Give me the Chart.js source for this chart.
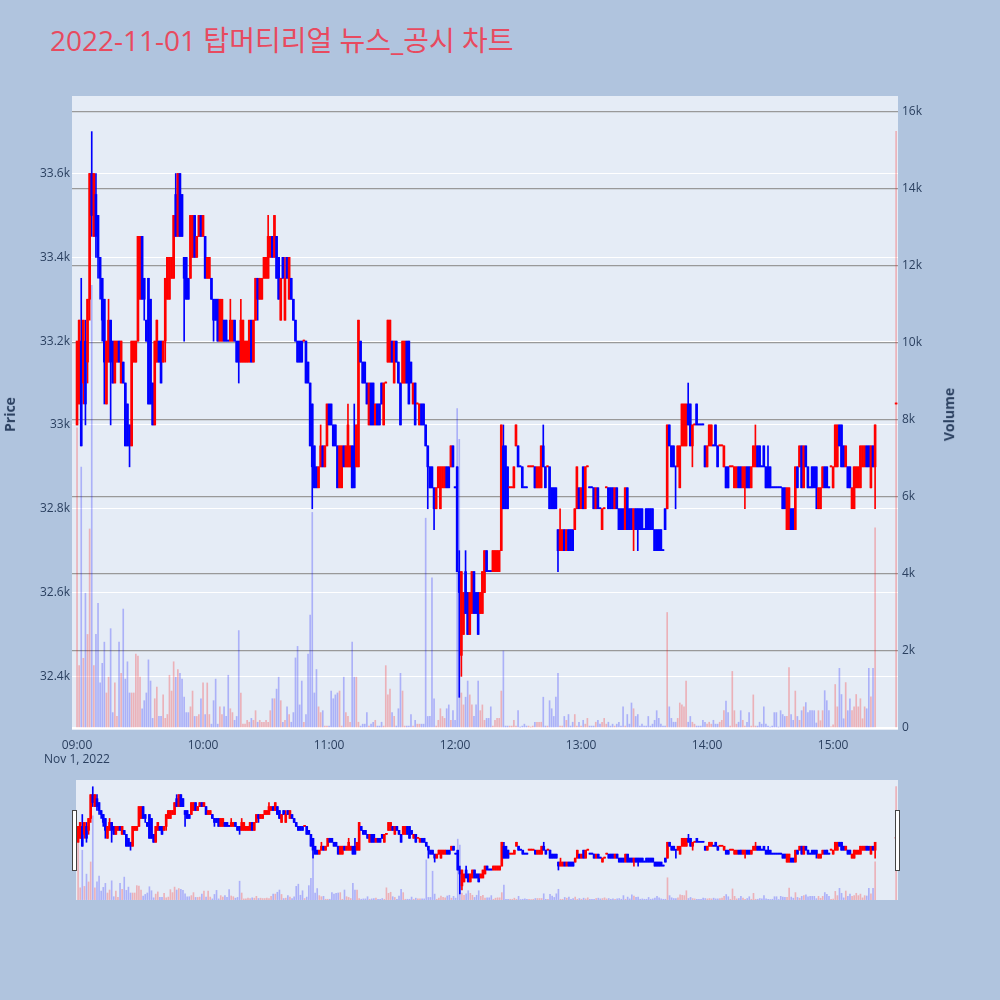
<!DOCTYPE html>
<html>
<head>
<meta charset="utf-8">
<script src="https://cdn.jsdelivr.net/npm/chart.js@4.4.0/dist/chart.umd.min.js"></script>
<style>
  body { margin: 0; width: 1000px; height: 1000px; background: #b0c4de; position: relative; overflow: hidden;
         font-family: "Open Sans", "Noto Sans CJK KR", sans-serif; }
  #title { position: absolute; left: 50px; top: 19px; font-size: 28px; color: #e84a5f; white-space: nowrap; }
  #main { position: absolute; left: 0; top: 0; }
  #slider { position: absolute; left: 76px; top: 780px; background: #e5ecf6; }
  .axtitle { position: absolute; font-size: 14px; font-weight: bold; color: #2a3f5f; transform: rotate(-90deg); white-space: nowrap; }
  #date { position: absolute; left: 27px; top: 750px; width: 100px; text-align: center; font-size: 12px; color: #2a3f5f; }
  .handle { position: absolute; top: 810px; width: 3px; height: 59px; background: #fff; border: 1px solid #444; }
</style>
</head>
<body>
<div id="title">2022-11-01 탑머티리얼 뉴스_공시 차트</div>
<canvas id="main" width="1000" height="780"></canvas>
<canvas id="slider" width="822" height="120"></canvas>
<div class="axtitle" style="left:-8px;top:405px;">Price</div>
<div class="axtitle" style="left:922px;top:405px;">Volume</div>
<div id="date">Nov 1, 2022</div>
<div class="handle" style="left:72px;"></div>
<div class="handle" style="left:895px;"></div>
<script>
// 1분봉 (09:00 ~ 15:20) + 15:30 동시호가
const opens = [
  33000,33050,33200,33100,33200,33150,33300,33600,33450,33550,
  33500,33400,33350,33300,33050,33150,33250,33200,33100,33150,
  33200,33100,33150,33100,33050,33000,32950,33150,33150,33200,
  33300,33450,33350,33250,33350,33300,33100,33000,33150,33200,
  33200,33150,33200,33300,33300,33350,33350,33550,33450,33600,
  33550,33400,33400,33350,33350,33400,33500,33400,33450,33500,
  33450,33450,33350,33350,33350,33300,33300,33300,33200,33200,
  33250,33250,33200,33200,33200,33250,33200,33200,33150,33150,
  33150,33150,33150,33250,33150,33250,33350,33300,33300,33350,
  33350,33350,33400,33450,33400,33450,33400,33250,33400,33250,
  33400,33300,33350,33300,33250,33200,33200,33200,33200,33200,
  33150,33100,33050,32950,32900,32850,32900,32950,32900,32950,
  33050,33050,33000,33000,32950,32850,32850,32950,32900,32900,
  32900,32950,32950,32900,32900,33200,33150,33150,33100,33000,
  33100,33100,33000,33050,33050,33100,33000,33100,33150,33150,
  33200,33100,33200,33150,33100,33100,33100,33200,33200,33150,
  33050,33100,33050,33000,33050,33050,33000,32950,32900,32900,
  32850,32800,32850,32800,32850,32850,32900,32900,32900,32950,
  32850,32900,32650,32450,32500,32650,32600,32500,32550,32650,
  32600,32600,32550,32550,32600,32700,32650,32650,32650,32650,
  32650,32650,32700,32950,32950,32900,32850,32850,32850,32950,
  32950,32900,32900,32850,32850,32900,32900,32900,32900,32850,
  32850,32850,32950,32900,32900,32900,32850,32850,32850,32750,
  32700,32700,32750,32700,32750,32750,32750,32750,32800,32850,
  32800,32900,32800,32900,32850,32850,32850,32800,32850,32800,
  32750,32800,32850,32850,32850,32850,32800,32850,32800,32800,
  32800,32750,32850,32800,32800,32750,32800,32800,32800,32800,
  32750,32800,32800,32800,32800,32750,32750,32750,32750,32700,
  32800,32800,33000,32950,32950,32900,32900,32850,32950,32950,
  32950,33050,33050,32950,33000,33050,33000,33000,33000,32950,
  32900,32950,32950,32950,33000,32950,32950,32950,32900,32900,
  32900,32900,32900,32850,32850,32900,32900,32850,32850,32900,
  32900,32850,32900,32900,32950,32950,32900,32950,32900,32900,
  32900,32850,32850,32850,32850,32850,32850,32850,32750,32750,
  32800,32800,32750,32900,32900,32950,32850,32950,32900,32850,
  32900,32900,32900,32800,32800,32850,32900,32900,32850,32900,
  32850,32900,32900,33000,33000,32950,32900,32900,32900,32800,
  32800,32850,32850,32850,32900,32900,32950,32950,32850,32950,32900,
  33050
];
const closes = [
  33200,33250,32950,33250,33050,33300,33600,33500,33600,33450,
  33400,33350,33250,33150,33200,33250,33150,33100,33200,33200,
  33150,33200,33100,32950,32950,32950,33200,33200,33200,33450,
  33450,33300,33300,33200,33050,33050,33000,33200,33250,33150,
  33100,33200,33350,33400,33400,33400,33500,33450,33600,33450,
  33450,33350,33300,33300,33500,33500,33400,33450,33500,33450,
  33500,33350,33400,33400,33300,33250,33250,33200,33300,33300,
  33200,33200,33200,33250,33250,33200,33150,33150,33250,33250,
  33200,33200,33250,33150,33250,33350,33300,33350,33350,33400,
  33400,33450,33450,33400,33500,33350,33300,33350,33350,33350,
  33350,33400,33300,33250,33200,33150,33150,33150,33200,33100,
  33100,32950,32900,32850,32850,32900,32950,32900,32950,33050,
  33000,33000,32950,32950,32850,32950,32950,32900,32950,33000,
  32950,32850,32850,33000,33250,33150,33100,33100,33050,33100,
  33000,33000,33050,33000,33000,33050,33100,33100,33250,33250,
  33150,33200,33150,33100,33000,33200,33200,33100,33050,33100,
  33100,33000,33050,33050,33000,33000,32950,32900,32850,32850,
  32800,32850,32900,32900,32900,32900,32850,32850,32950,32900,
  32850,32650,32600,32650,32600,32550,32500,32600,32650,32550,
  32550,32500,32600,32650,32700,32650,32650,32650,32700,32700,
  32700,32700,33000,32800,32800,32800,32850,32850,32900,33000,
  32900,32900,32850,32850,32850,32900,32900,32900,32850,32900,
  32900,32950,32900,32850,32900,32800,32800,32800,32800,32700,
  32750,32750,32700,32750,32700,32700,32700,32800,32900,32800,
  32850,32800,32900,32900,32850,32850,32800,32850,32800,32800,
  32800,32800,32850,32800,32800,32800,32850,32800,32750,32750,
  32750,32850,32750,32750,32750,32800,32750,32750,32750,32750,
  32750,32750,32750,32750,32750,32700,32700,32700,32700,32700,
  32750,33000,32950,32900,32900,32900,32950,32950,33050,33050,
  33050,33000,32950,33000,33000,33000,33000,33000,33000,32900,
  32950,33000,33000,32950,32950,32900,32950,32950,32950,32850,
  32850,32900,32900,32900,32900,32850,32850,32900,32900,32850,
  32850,32900,32950,32950,32900,32900,32900,32900,32850,32850,
  32850,32850,32850,32850,32850,32850,32800,32800,32850,32850,
  32750,32750,32900,32850,32950,32850,32950,32900,32850,32850,
  32850,32850,32850,32850,32850,32900,32850,32850,32850,32900,
  32900,33000,33000,32950,32900,32900,32950,32850,32850,32850,
  32900,32900,32900,32950,32950,32950,32900,32900,32950,32900,33000,
  33050
];
const highs = [
  33200,33250,33350,33250,33250,33300,33600,33700,33600,33600,
  33500,33400,33350,33300,33200,33300,33250,33200,33200,33200,
  33200,33200,33150,33100,33050,33000,33200,33200,33200,33450,
  33450,33450,33350,33250,33350,33300,33100,33200,33250,33200,
  33200,33200,33350,33400,33400,33400,33500,33600,33600,33600,
  33550,33400,33400,33350,33500,33500,33500,33450,33500,33500,
  33500,33450,33400,33400,33350,33300,33300,33300,33300,33300,
  33250,33250,33200,33300,33250,33250,33200,33200,33300,33250,
  33200,33200,33250,33250,33250,33350,33350,33350,33350,33400,
  33400,33500,33450,33450,33500,33450,33400,33350,33400,33400,
  33400,33400,33350,33300,33250,33200,33200,33200,33200,33200,
  33150,33100,33050,32950,32900,32900,33000,32950,32950,33050,
  33050,33050,33000,33000,32950,32950,32950,32950,32950,33050,
  32950,32950,33050,33000,33250,33200,33150,33150,33100,33100,
  33100,33100,33050,33050,33050,33100,33100,33100,33250,33250,
  33200,33200,33200,33150,33100,33200,33200,33200,33200,33150,
  33100,33100,33050,33050,33050,33050,33000,32950,32900,32900,
  32850,32850,32900,32900,32900,32900,32900,32900,32950,32950,
  32850,32900,32700,32650,32600,32700,32600,32600,32650,32650,
  32600,32600,32600,32650,32700,32700,32650,32650,32700,32700,
  32700,32700,33000,33000,32950,32900,32850,32850,32900,33000,
  32950,32900,32900,32850,32850,32900,32900,32900,32900,32900,
  32900,32950,33000,32900,32900,32900,32850,32850,32850,32750,
  32800,32750,32750,32750,32750,32750,32750,32800,32900,32850,
  32850,32900,32900,32900,32850,32850,32850,32850,32850,32800,
  32800,32800,32850,32850,32850,32850,32850,32850,32800,32800,
  32800,32850,32850,32800,32800,32800,32800,32800,32800,32800,
  32750,32800,32800,32800,32800,32750,32750,32750,32750,32700,
  32800,33000,33000,32950,32950,32900,32950,32950,33050,33050,
  33050,33100,33050,33000,33000,33050,33000,33000,33000,32950,
  32950,33000,33000,32950,33000,32950,32950,32950,32950,32900,
  32900,32900,32900,32900,32900,32900,32900,32900,32900,32900,
  32900,32900,32950,33000,32950,32950,32900,32950,32900,32950,
  32900,32850,32850,32850,32850,32850,32850,32850,32850,32850,
  32800,32800,32900,32900,32950,32950,32950,32950,32900,32850,
  32900,32900,32900,32850,32850,32900,32900,32900,32850,32900,
  32900,33000,33000,33000,33000,32950,32950,32900,32900,32850,
  32900,32900,32900,32950,32950,32950,32950,32950,32950,32950,33000,
  33050
];
const lows = [
  33000,33050,32950,33050,33000,33100,33250,33450,33450,33400,
  33350,33300,33200,33050,33050,33150,33000,33100,33100,33150,
  33150,33100,33100,32950,32950,32900,32950,33150,33150,33200,
  33300,33300,33250,33200,33050,33050,33000,33000,33150,33150,
  33100,33150,33150,33300,33300,33350,33350,33450,33450,33450,
  33450,33200,33300,33300,33350,33400,33400,33400,33450,33450,
  33450,33350,33350,33350,33300,33200,33250,33200,33200,33200,
  33200,33200,33200,33200,33200,33200,33150,33100,33150,33150,
  33150,33150,33150,33150,33150,33250,33250,33300,33300,33350,
  33350,33350,33400,33400,33400,33350,33300,33250,33350,33250,
  33350,33300,33300,33250,33200,33150,33150,33150,33200,33100,
  33100,32950,32800,32850,32850,32850,32900,32900,32900,32950,
  33000,33000,32950,32950,32850,32850,32850,32900,32900,32900,
  32900,32850,32850,32900,32900,33150,33100,33100,33050,33000,
  33000,33000,33000,33000,33000,33050,33000,33100,33150,33150,
  33150,33100,33150,33100,33000,33100,33100,33100,33050,33100,
  33050,33000,33050,33000,33000,33000,32950,32800,32850,32850,
  32750,32800,32850,32800,32850,32850,32850,32850,32900,32900,
  32850,32650,32350,32400,32500,32550,32500,32500,32550,32550,
  32550,32500,32550,32550,32600,32650,32650,32650,32650,32650,
  32650,32650,32700,32800,32800,32800,32850,32850,32850,32950,
  32900,32900,32850,32850,32850,32900,32900,32900,32850,32850,
  32850,32850,32900,32850,32900,32800,32800,32800,32800,32650,
  32700,32700,32700,32700,32700,32700,32700,32750,32800,32800,
  32800,32800,32800,32900,32850,32850,32800,32800,32800,32800,
  32750,32800,32850,32800,32800,32800,32800,32800,32750,32750,
  32750,32750,32750,32750,32750,32700,32750,32700,32750,32750,
  32750,32750,32750,32750,32750,32700,32700,32700,32700,32700,
  32750,32800,32950,32900,32900,32800,32900,32850,32950,32950,
  32950,33000,32950,32900,33000,33000,33000,33000,33000,32900,
  32900,32950,32950,32950,32950,32900,32950,32950,32900,32850,
  32850,32900,32900,32850,32850,32850,32850,32850,32800,32850,
  32850,32850,32900,32900,32900,32900,32900,32900,32850,32850,
  32850,32850,32850,32850,32850,32850,32800,32800,32750,32750,
  32750,32750,32750,32850,32900,32850,32850,32900,32850,32850,
  32850,32850,32800,32800,32800,32850,32850,32850,32850,32900,
  32850,32900,32900,32950,32900,32900,32900,32850,32850,32800,
  32800,32850,32850,32850,32900,32900,32900,32900,32850,32900,32800,
  33050
];
const volumes = [
  7800,1620,6780,1810,3500,2430,5170,11500,1620,2430,
  3240,1170,1680,2230,910,1320,2580,400,1170,300,
  2230,1420,3090,1270,1720,910,910,910,1920,1870,
  1320,500,710,910,1770,1220,250,760,1060,300,
  300,860,250,350,1370,960,1720,1320,1520,1420,
  1270,800,400,400,550,960,300,300,350,760,
  1170,350,1170,350,100,710,1270,100,550,350,
  550,300,1370,500,400,200,300,2530,910,100,
  100,200,150,250,200,450,150,200,150,150,
  200,150,450,760,760,1010,1320,710,150,200,
  550,350,150,400,1820,2120,600,1220,150,350,
  1920,2930,5600,910,1520,550,400,450,50,50,
  50,960,760,860,910,960,50,1320,400,300,
  150,2230,1320,1320,150,50,100,100,400,50,
  100,150,200,50,50,150,50,1620,860,1010,
  400,300,50,500,1420,960,50,50,50,350,
  50,200,100,100,100,100,5450,300,300,3900,
  760,50,200,500,300,250,500,600,200,450,
  200,8300,7500,910,600,800,1220,860,600,300,
  600,1220,450,600,200,250,250,550,50,200,
  250,250,960,2000,50,50,50,50,200,50,
  450,20,50,100,50,50,20,50,150,150,
  150,150,800,50,50,710,500,300,800,1420,
  50,50,300,200,350,50,150,350,50,150,
  50,200,100,250,50,50,50,150,200,100,
  150,250,100,150,50,100,50,100,150,50,
  550,50,350,100,650,500,300,350,50,100,
  50,50,300,50,100,200,450,250,100,50,
  50,3000,550,250,150,150,250,650,600,550,
  1220,150,300,150,100,50,50,50,200,150,
  100,150,100,200,100,100,150,200,450,700,
  400,50,1470,450,100,150,450,200,50,150,
  400,50,860,50,50,150,100,550,100,50,
  20,50,400,400,20,450,350,300,300,1570,
  350,200,960,300,200,450,550,660,400,450,
  450,450,130,450,190,450,970,710,450,30,
  80,1130,550,1550,870,240,1180,450,760,450,
  550,870,550,760,240,550,500,1550,810,1550,5200,
  15500
];
// 분 단위 시간축 (09:00 = 0), 마지막 봉은 15:30 동시호가
const minutes = opens.map((_, i) => (i < opens.length - 1 ? i : 390));

const xTicks = [0, 60, 120, 180, 240, 300, 360];
const xTickLabels = ['09:00', '10:00', '11:00', '12:00', '13:00', '14:00', '15:00'];
const priceTicks = [32400, 32600, 32800, 33000, 33200, 33400, 33600];
const priceTickLabels = ['32.4k', '32.6k', '32.8k', '33k', '33.2k', '33.4k', '33.6k'];
const volumeTicks = [0, 2000, 4000, 6000, 8000, 10000, 12000, 14000, 16000];
const volumeTickLabels = ['0', '2k', '4k', '6k', '8k', '10k', '12k', '14k', '16k'];

const UP = '#ff0000', DOWN = '#0000ff';
const UP_VOL = 'rgba(255,0,0,0.25)', DOWN_VOL = 'rgba(0,0,255,0.25)';

// 상승/하락 판정 (시가=종가이면 전봉 종가와 비교)
const dirs = [];
closes.forEach((c, i) => {
    let d;
    if (c > opens[i]) d = 1;
    else if (c < opens[i]) d = -1;
    else if (i > 0 && c > closes[i - 1]) d = 1;
    else if (i > 0 && c < closes[i - 1]) d = -1;
    else d = i > 0 ? dirs[i - 1] : 1;
    dirs.push(d);
});
const candleColors = dirs.map(d => (d > 0 ? UP : DOWN));
const volColors = dirs.map(d => (d > 0 ? UP_VOL : DOWN_VOL));

function makeDatasets(bodyW, wickW, volW) {
    return [
        {
            label: 'Volume', yAxisID: 'y1', order: 3,
            data: minutes.map((m, i) => ({ x: m, y: volumes[i] })),
            backgroundColor: volColors, barThickness: volW
        },
        {
            label: 'wick', yAxisID: 'y', order: 2,
            data: minutes.map((m, i) => ({ x: m, y: [lows[i], highs[i]] })),
            backgroundColor: candleColors, barThickness: wickW, minBarLength: 1
        },
        {
            label: 'body', yAxisID: 'y', order: 1,
            data: minutes.map((m, i) => ({ x: m, y: [opens[i], closes[i]] })),
            backgroundColor: candleColors, barThickness: bodyW, minBarLength: 1
        }
    ];
}

const plotBg = {
    id: 'plotBg',
    beforeDraw(chart) {
        const { ctx, chartArea: a } = chart;
        ctx.save();
        ctx.fillStyle = '#e5ecf6';
        ctx.fillRect(a.left, a.top, a.right - a.left, a.bottom - a.top);
        ctx.restore();
    }
};

const tickFont = { family: '"Open Sans", sans-serif', size: 12 };
const tickColor = '#2a3f5f';

new Chart(document.getElementById('main'), {
    type: 'bar',
    data: { datasets: makeDatasets(2, 1, 1) },
    options: {
        responsive: false,
        animation: false,
        devicePixelRatio: 1,
        layout: { padding: { top: 96, left: 0, right: 0, bottom: 0 } },
        datasets: { bar: { grouped: false } },
        plugins: { legend: { display: false }, tooltip: { enabled: false } },
        scales: {
            x: {
                type: 'linear', min: -2.4, max: 390.9, offset: false,
                grid: { display: false }, border: { display: false },
                afterBuildTicks: s => { s.ticks = xTicks.map(v => ({ value: v })); },
                afterFit: s => { s.height = 50; },
                ticks: { autoSkip: false, maxRotation: 0, padding: 0, color: tickColor, font: tickFont,
                         callback: (v, i) => xTickLabels[i] }
            },
            y: {
                position: 'left', min: 32272, max: 33785,
                grid: { color: '#ffffff', lineWidth: 1, drawTicks: false }, border: { display: false },
                afterBuildTicks: s => { s.ticks = priceTicks.map(v => ({ value: v })); },
                afterFit: s => { s.width = 72; },
                ticks: { padding: 2, color: tickColor, font: tickFont, callback: (v, i) => priceTickLabels[i] }
            },
            y1: {
                position: 'right', min: -52, max: 16416,
                grid: { color: ctx => (ctx.tick && ctx.tick.value === 0 ? '#ffffff' : '#999999'),
                        lineWidth: ctx => (ctx.tick && ctx.tick.value === 0 ? 2 : 1.3), drawTicks: false },
                border: { display: false },
                afterBuildTicks: s => { s.ticks = volumeTicks.map(v => ({ value: v })); },
                afterFit: s => { s.width = 102; },
                ticks: { padding: 4, color: tickColor, font: tickFont, callback: (v, i) => volumeTickLabels[i] }
            }
        }
    },
    plugins: [plotBg]
});

// 하단 레인지 슬라이더 (전체 구간 미리보기)
new Chart(document.getElementById('slider'), {
    type: 'bar',
    data: { datasets: makeDatasets(2, 1, 1) },
    options: {
        responsive: false,
        animation: false,
        devicePixelRatio: 1,
        layout: { padding: 0 },
        datasets: { bar: { grouped: false } },
        plugins: { legend: { display: false }, tooltip: { enabled: false } },
        scales: {
            x: { type: 'linear', min: -1, max: 390.9, offset: false, display: false },
            y: { min: 32272, max: 33785, display: false },
            y1: { min: -52, max: 16416, display: false }
        }
    }
});
</script>
</body>
</html>
